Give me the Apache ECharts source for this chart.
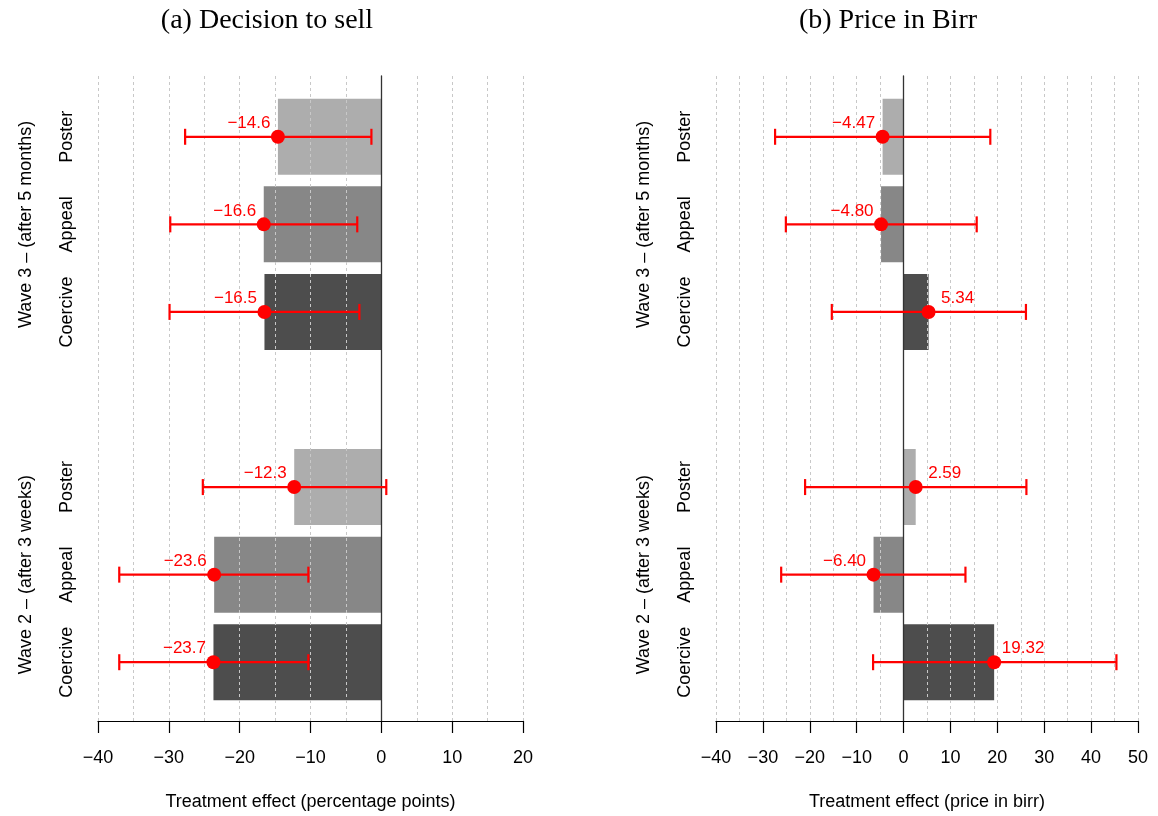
<!DOCTYPE html>
<html>
<head>
<meta charset="utf-8">
<script src="https://cdn.jsdelivr.net/npm/echarts@6/dist/echarts.min.js"></script>
<style>
  html, body { margin: 0; padding: 0; background: #fff; }
  #main { width: 1158px; height: 816px; }
</style>
</head>
<body>
<div id="main"></div>
<script>
// 类别
var treatments = ['Poster', 'Appeal', 'Coercive'];
var waves = ['Wave 3 \u2013 (after 5 months)', 'Wave 2 \u2013 (after 3 weeks)'];

// (a) Decision to sell
var sellEst3 = [-14.6, -16.6, -16.5];
var sellLo3 = [-27.7, -29.8, -29.9];
var sellHi3 = [-1.4, -3.4, -3.1];
var sellEst2 = [-12.3, -23.6, -23.7];
var sellLo2 = [-25.2, -37.0, -37.0];
var sellHi2 = [0.7, -10.3, -10.3];

// (b) Price in Birr
var priceEst3 = [-4.47, -4.80, 5.34];
var priceLo3 = [-27.4, -25.1, -15.3];
var priceHi3 = [18.5, 15.6, 26.1];
var priceEst2 = [2.59, -6.40, 19.32];
var priceLo2 = [-21.0, -26.1, -6.5];
var priceHi2 = [26.2, 13.2, 45.4];

var barColors = ['#adadad', '#878787', '#4d4d4d'];
var font = '"Liberation Sans", Arial, Helvetica, sans-serif';
var minus = function (s) { return String(s).replace('-', '\u2212'); };

// 7 行: wave 3 三行, 空行, wave 2 三行
function buildRows(est3, lo3, hi3, est2, lo2, hi2) {
    var rows = [];
    treatments.forEach(function (t, i) { rows.push({ t: i, est: est3[i], lo: lo3[i], hi: hi3[i] }); });
    rows.push(null);
    treatments.forEach(function (t, i) { rows.push({ t: i, est: est2[i], lo: lo2[i], hi: hi2[i] }); });
    return rows;
}
var rowKeys = ['0', '1', '2', '3', '4', '5', '6'];
var rowLabel = function (v, idx) { return idx === 3 ? '' : treatments[idx % 4]; };
var groupLabel = function (v, idx) { return idx === 1 ? waves[0] : (idx === 5 ? waves[1] : ''); };

function panel(p, rows, digits, xMin, xMax, xName, gridLeft, gridRight) {
    var gA = p * 2, gB = p * 2 + 1;
    var grids = [
        { left: gridLeft, right: gridRight, top: 76, bottom: 93 },
        { left: gridLeft, right: gridRight, top: 93, bottom: 110 }
    ];
    var xAxes = [
        {
            gridIndex: gA, type: 'value', min: xMin, max: xMax, interval: 10, z: 5,
            name: xName, nameLocation: 'middle', nameGap: 72,
            nameTextStyle: { fontSize: 18, color: '#000', fontFamily: font },
            axisLine: { show: true, onZero: false, lineStyle: { color: '#000', width: 1.2 } },
            axisTick: { show: true, length: 12, lineStyle: { color: '#000', width: 1.2 } },
            axisLabel: { fontSize: 18, color: '#000', margin: 28, fontFamily: font, formatter: minus },
            splitLine: { show: true, lineStyle: { color: '#c8c8c8', type: [3, 3], width: 1 } },
            minorTick: { show: false, splitNumber: 2 },
            minorSplitLine: { show: true, lineStyle: { color: '#c8c8c8', type: [3, 3], width: 1 } }
        },
        { gridIndex: gB, type: 'value', min: xMin, max: xMax, show: false }
    ];
    var yAxes = [
        {
            gridIndex: gA, type: 'value', min: 0, max: 1, z: 5,
            axisLine: { show: true, onZero: true, lineStyle: { color: '#333', width: 1.3 } },
            axisTick: { show: false }, axisLabel: { show: false }, splitLine: { show: false }
        },
        {
            gridIndex: gB, type: 'category', data: rowKeys, inverse: true,
            axisLine: { show: false }, axisTick: { show: false },
            axisLabel: { rotate: 90, interval: 0, margin: 22, fontSize: 18, color: '#000', fontFamily: font, formatter: rowLabel }
        },
        {
            gridIndex: gB, type: 'category', data: rowKeys, inverse: true, position: 'left', offset: 41,
            axisLine: { show: false }, axisTick: { show: false },
            axisLabel: { rotate: 90, interval: 0, margin: 22, fontSize: 18, color: '#000', fontFamily: font, formatter: groupLabel }
        }
    ];
    var xB = p * 2 + 1, yB = p * 3 + 1;
    var series = [
        {
            type: 'bar', xAxisIndex: xB, yAxisIndex: yB, barWidth: 76, z: 2,
            data: rows.map(function (r) {
                return r ? { value: r.est, itemStyle: { color: barColors[r.t] } } : '-';
            })
        },
        {
            type: 'custom', xAxisIndex: xB, yAxisIndex: yB, z: 8,
            encode: { x: [0, 1], y: 2 },
            data: rows.map(function (r, i) { return r ? [r.lo, r.hi, i] : null; }).filter(Boolean),
            renderItem: function (params, api) {
                var a = api.coord([api.value(0), api.value(2)]);
                var b = api.coord([api.value(1), api.value(2)]);
                var st = { stroke: '#ff0000', lineWidth: 2.2 };
                return {
                    type: 'group',
                    children: [
                        { type: 'line', shape: { x1: a[0], y1: a[1], x2: b[0], y2: b[1] }, style: st },
                        { type: 'line', shape: { x1: a[0], y1: a[1] - 8, x2: a[0], y2: a[1] + 8 }, style: st },
                        { type: 'line', shape: { x1: b[0], y1: b[1] - 8, x2: b[0], y2: b[1] + 8 }, style: st }
                    ]
                };
            }
        },
        {
            type: 'scatter', xAxisIndex: xB, yAxisIndex: yB, z: 9,
            symbol: 'circle', symbolSize: 14,
            itemStyle: { color: '#ff0000', opacity: 1 },
            data: rows.map(function (r, i) {
                if (!r) return null;
                return {
                    value: [r.est, i],
                    label: { offset: [r.est < 0 ? -29 : 29, 2] }
                };
            }).filter(Boolean),
            label: {
                show: true, position: 'top', distance: 0, align: 'center',
                fontSize: 17, color: '#ff0000', fontFamily: font,
                formatter: function (d) { return minus(d.value[0].toFixed(digits)); }
            }
        }
    ];
    return { grids: grids, xAxes: xAxes, yAxes: yAxes, series: series };
}

var sellRows = buildRows(sellEst3, sellLo3, sellHi3, sellEst2, sellLo2, sellHi2);
var priceRows = buildRows(priceEst3, priceLo3, priceHi3, priceEst2, priceLo2, priceHi2);

var pa = panel(0, sellRows, 1, -40, 20, 'Treatment effect (percentage points)', 98, 635);
var pb = panel(1, priceRows, 2, -40, 50, 'Treatment effect (price in birr)', 716, 20);

var chartDom = document.getElementById('main');
var myChart = echarts.init(chartDom, null, { renderer: 'canvas' });
var titleFont = '28px "Liberation Serif", "Times New Roman", serif';
var option = {
    animation: false,
    backgroundColor: '#fff',
    textStyle: { fontFamily: font },
    graphic: [
        { type: 'text', x: 267, y: 21, style: { text: '(a) Decision to sell', font: titleFont, fill: '#000', textAlign: 'center', textVerticalAlign: 'middle' } },
        { type: 'text', x: 888, y: 21, style: { text: '(b) Price in Birr', font: titleFont, fill: '#000', textAlign: 'center', textVerticalAlign: 'middle' } }
    ],
    grid: pa.grids.concat(pb.grids),
    xAxis: pa.xAxes.concat(pb.xAxes),
    yAxis: pa.yAxes.concat(pb.yAxes),
    series: pa.series.concat(pb.series)
};

option && myChart.setOption(option);
</script>
</body>
</html>
